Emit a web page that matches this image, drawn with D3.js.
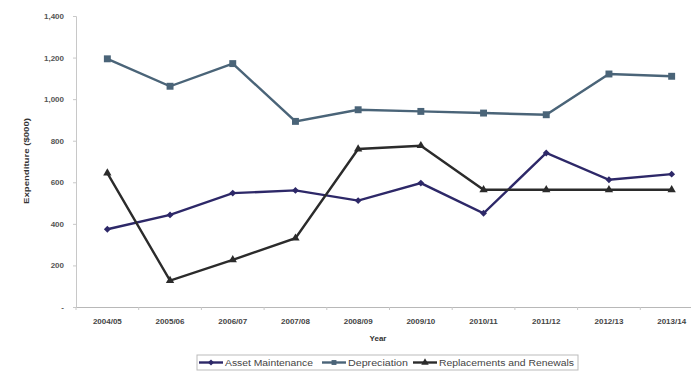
<!DOCTYPE html>
<html>
<head>
<meta charset="utf-8">
<script src="https://cdn.jsdelivr.net/npm/d3@7"></script>
<style>
  body { margin: 0; background: #fff; }
  text { font-family: "Liberation Sans", Arial, sans-serif; }
</style>
</head>
<body>
<div id="chart"></div>
<script>
/**
 * Data
 */
const years = ["2004/05", "2005/06", "2006/07", "2007/08", "2008/09",
  "2009/10", "2010/11", "2011/12", "2012/13", "2013/14"];
const assetMaintenance = [374, 443, 548, 561, 512, 596, 451, 741, 612, 639];
const depreciation = [1194, 1062, 1171, 893, 949, 941, 933, 925, 1121, 1110];
const replacements = [644, 127, 227, 331, 760, 776, 564, 564, 564, 564];
const yTicks = [0, 200, 400, 600, 800, 1000, 1200, 1400];

const width = 691;
const height = 378;
const margin = { left: 76, top: 16, bottom: 307 };

const svg = d3.select("#chart")
  .append("svg")
  .attr("width", width)
  .attr("height", height);

/**
 * Scales
 */
const xScale = d3.scaleBand()
  .domain(years)
  .range([margin.left, margin.left + 62.7 * 10]);

const yScale = d3.scaleLinear()
  .domain([0, 1400])
  .range([margin.bottom, margin.top]);

/**
 * Axes
 */
const yAxis = d3.axisLeft(yScale)
  .tickValues(yTicks)
  .tickSize(3)
  .tickFormat(d => d === 0 ? "-" : d3.format(",")(d));

svg.append("g")
  .attr("transform", "translate(" + margin.left + ",0)")
  .call(yAxis)
  .call(g => g.select(".domain").attr("stroke", "#c8c8c8"))
  .call(g => g.selectAll(".tick line").attr("stroke", "#c8c8c8"))
  .call(g => g.selectAll(".tick text")
    .attr("x", -12)
    .style("font-size", "8px")
    .style("font-weight", "bold")
    .attr("fill", "#555"));

const xAxis = d3.axisBottom(xScale)
  .tickSize(0)
  .tickPadding(11);

svg.append("g")
  .attr("transform", "translate(0," + margin.bottom + ")")
  .call(xAxis)
  .call(g => g.select(".domain").attr("stroke", "#b8b8b8"))
  .call(g => g.selectAll(".tick text")
    .style("font-size", "8px")
    .style("font-weight", "bold")
    .attr("fill", "#444"));

// small tick marks at band boundaries
svg.append("g")
  .selectAll("line")
  .data(years)
  .enter()
  .append("line")
  .attr("x1", d => xScale(d))
  .attr("x2", d => xScale(d))
  .attr("y1", margin.bottom)
  .attr("y2", margin.bottom + 3)
  .attr("stroke", "#c8c8c8");

// axis titles
svg.append("text")
  .attr("transform", "translate(29,161) rotate(-90)")
  .attr("text-anchor", "middle")
  .attr("textLength", 86)
  .attr("lengthAdjust", "spacingAndGlyphs")
  .style("font-size", "8px")
  .style("font-weight", "bold")
  .attr("fill", "#333")
  .text("Expenditure ($000)");

svg.append("text")
  .attr("x", 378)
  .attr("y", 341)
  .attr("text-anchor", "middle")
  .style("font-size", "8px")
  .style("font-weight", "bold")
  .attr("fill", "#333")
  .text("Year");

/**
 * Series
 */
const series = [
  { name: "Asset Maintenance", values: assetMaintenance, color: "#2d2868", symbol: d3.symbolDiamond2 },
  { name: "Depreciation", values: depreciation, color: "#4a6478", symbol: d3.symbolSquare },
  { name: "Replacements and Renewals", values: replacements, color: "#2b2b2b", symbol: d3.symbolTriangle }
];

const line = d3.line()
  .x((d, i) => xScale(years[i]) + xScale.bandwidth() / 2)
  .y(d => yScale(d));

series.forEach(function(s) {
  svg.append("path")
    .datum(s.values)
    .attr("d", line)
    .attr("fill", "none")
    .attr("stroke", s.color)
    .attr("stroke-width", 2.4);

  svg.append("g")
    .selectAll("path")
    .data(s.values)
    .enter()
    .append("path")
    .attr("d", d3.symbol().type(s.symbol).size(s.symbol === d3.symbolSquare ? 48 : 30))
    .attr("transform", (d, i) =>
      "translate(" + (xScale(years[i]) + xScale.bandwidth() / 2) + "," + yScale(d) + ")")
    .attr("fill", s.color);
});

/**
 * Legend
 */
const legend = svg.append("g");
legend.append("rect")
  .attr("x", 197)
  .attr("y", 355)
  .attr("width", 381)
  .attr("height", 15)
  .attr("fill", "#fff")
  .attr("stroke", "#bbb");

const legendX = [199, 322, 413];
const legendTextLen = [88, 60, 135];
series.forEach(function(s, i) {
  const g = legend.append("g").attr("transform", "translate(" + legendX[i] + ",362.5)");
  g.append("line")
    .attr("x1", 0).attr("x2", 24)
    .attr("stroke", s.color)
    .attr("stroke-width", 2.4);
  g.append("path")
    .attr("d", d3.symbol().type(s.symbol).size(24))
    .attr("transform", "translate(12,0)")
    .attr("fill", s.color);
  g.append("text")
    .attr("x", 26)
    .attr("y", 3)
    .attr("textLength", legendTextLen[i])
    .attr("lengthAdjust", "spacingAndGlyphs")
    .style("font-size", "8.5px")
    .attr("fill", "#444")
    .text(s.name);
});
</script>
</body>
</html>
